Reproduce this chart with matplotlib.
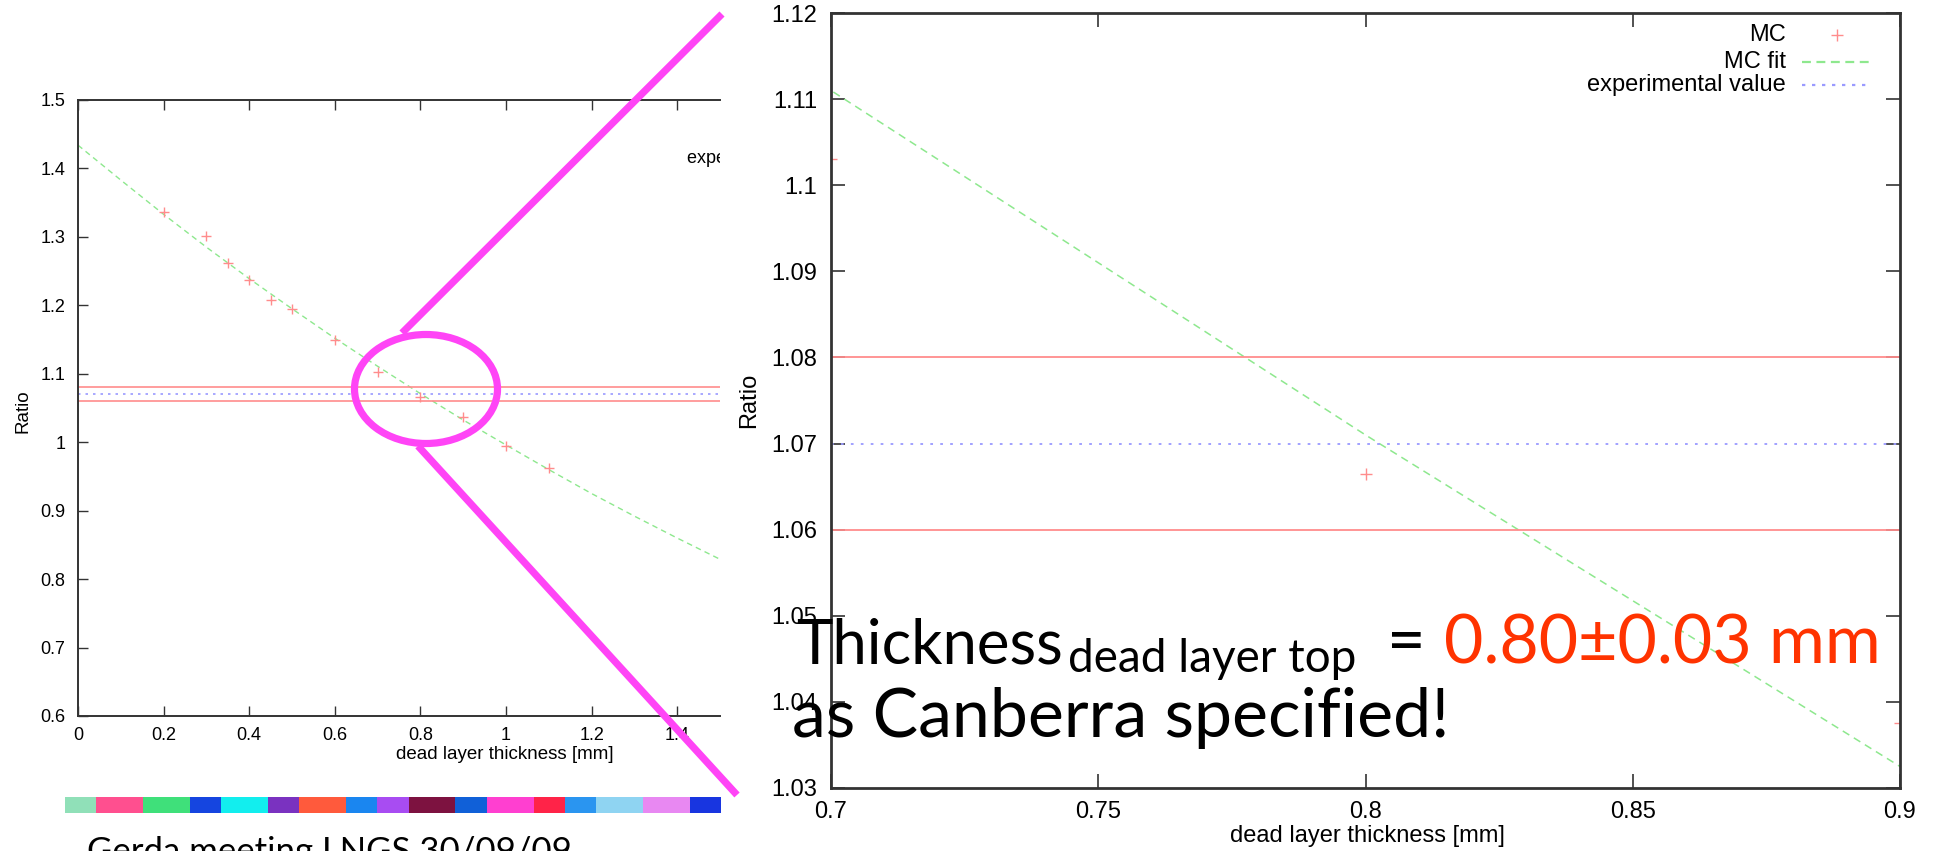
import matplotlib
matplotlib.use("Agg")
import matplotlib.pyplot as plt
from matplotlib.patches import Ellipse, Rectangle
from matplotlib.ticker import FuncFormatter

# MC points: dead layer thickness [mm] vs ratio
mc_x = [0.2, 0.3, 0.35, 0.4, 0.45, 0.5, 0.6, 0.7, 0.8, 0.9, 1.0, 1.1]
mc_y = [1.336, 1.301, 1.262, 1.237, 1.208, 1.194, 1.150, 1.103, 1.0665, 1.0375, 0.994, 0.963]

# MC fit curve
fit_x = [0.0, 0.1, 0.2, 0.3, 0.4, 0.5, 0.6, 0.7, 0.8, 0.9, 1.0, 1.1, 1.2, 1.3, 1.4, 1.5]
fit_y = [1.434, 1.383, 1.333, 1.285, 1.239, 1.195, 1.152, 1.111, 1.071, 1.0325,
         0.996, 0.960, 0.925, 0.892, 0.860, 0.829]

# experimental value with its band
exp_val = 1.07
exp_band = [1.06, 1.08]

left_xticks = [0, 0.2, 0.4, 0.6, 0.8, 1.0, 1.2, 1.4]
left_yticks = [0.6, 0.7, 0.8, 0.9, 1.0, 1.1, 1.2, 1.3, 1.4, 1.5]
right_xticks = [0.7, 0.75, 0.8, 0.85, 0.9]
right_yticks = [1.03, 1.04, 1.05, 1.06, 1.07, 1.08, 1.09, 1.10, 1.11, 1.12]

# decorative strip colours under the left plot
strip_colors = ['#90e0b8', '#ff4f8f', '#3fe07a', '#1545e0', '#12eeee', '#7a32c0',
                '#ff5a3c', '#1a86f0', '#a84cf2', '#7d1240', '#1060d8', '#ff3fd0',
                '#ff2348', '#2a95f0', '#8fd4f2', '#e888f2', '#1835e0']
strip_widths = [2, 3, 3, 2, 3, 2, 3, 2, 2, 3, 2, 3, 2, 2, 3, 3, 2]

W, H = 1934, 851
RED = '#ff8c8c'
GREEN = '#8ee88e'
BLUE = '#9a9aff'
gfmt = FuncFormatter(lambda v, p: '%g' % round(v, 3))

fig = plt.figure(figsize=(W / 100, H / 100), dpi=100)
plt.rcParams['font.family'] = ['Liberation Sans', 'DejaVu Sans']


def px_axes(x0, y0, x1, y1):
    return fig.add_axes([x0 / W, 1 - y1 / H, (x1 - x0) / W, (y1 - y0) / H])


# ---- left (full range) plot ----
ax1 = px_axes(78, 100, 720, 716)
ax1.plot(fit_x, fit_y, color=GREEN, lw=1, dashes=(4, 3))
for yb in exp_band:
    ax1.axhline(yb, color=RED, lw=1.2)
ax1.axhline(exp_val, color=BLUE, lw=1.2, dashes=(1.5, 3))
ax1.plot(mc_x, mc_y, '+', color=RED, ms=7, mew=1)
ax1.set_xlim(0, 1.5)
ax1.set_ylim(0.6, 1.5)
ax1.set_xticks(left_xticks)
ax1.set_yticks(left_yticks)
ax1.xaxis.set_major_formatter(gfmt)
ax1.yaxis.set_major_formatter(gfmt)
ax1.spines['right'].set_visible(False)
for s in ['left', 'top', 'bottom']:
    ax1.spines[s].set_linewidth(1.4)
    ax1.spines[s].set_color('#333333')
ax1.tick_params(direction='in', top=True, right=False, length=7, width=1,
                labelsize=13, color='#333333')
ax1.tick_params(axis='y', pad=9)
ax1.tick_params(axis='x', pad=8)
ax1.set_xlabel('dead layer thickness [mm]', fontsize=13.5)
ax1.xaxis.set_label_coords(0.665, -0.049)
ax1.set_ylabel('Ratio', fontsize=13.5)
ax1.yaxis.set_label_coords(-0.073, 0.495)
ax1.text(1.424, 1.415, 'experimental value', fontsize=13, va='center', ha='left',
         clip_on=True)

# ---- right (zoomed) plot ----
ax2 = px_axes(831, 13, 1900, 788)
ax2.plot(fit_x, fit_y, color=GREEN, lw=1.1, dashes=(5, 3.5))
for yb in exp_band:
    ax2.axhline(yb, color=RED, lw=1.3)
ax2.axhline(exp_val, color=BLUE, lw=1.3, dashes=(1.5, 4))
ax2.plot(mc_x, mc_y, '+', color=RED, ms=8, mew=1)
ax2.set_xlim(0.7, 0.9)
ax2.set_ylim(1.03, 1.12)
ax2.set_xticks(right_xticks)
ax2.set_yticks(right_yticks)
ax2.xaxis.set_major_formatter(gfmt)
ax2.yaxis.set_major_formatter(gfmt)
for s in ax2.spines.values():
    s.set_linewidth(2)
    s.set_color('#333333')
ax2.tick_params(direction='in', top=True, right=True, length=10, width=1.2,
                labelsize=17, color='#333333')
ax2.tick_params(axis='y', pad=10)
ax2.tick_params(axis='x', pad=9)
ax2.set_xlabel('dead layer thickness [mm]', fontsize=17)
ax2.xaxis.set_label_coords(0.5014, -0.048)
ax2.set_ylabel('Ratio', fontsize=17)
ax2.yaxis.set_label_coords(-0.066, 0.5)

# gnuplot-style key, text right aligned
key_y = [0.9716, 0.9368, 0.9071]
ax2.text(0.8934, key_y[0], 'MC', transform=ax2.transAxes, ha='right', va='center', fontsize=17)
ax2.text(0.8934, key_y[1], 'MC fit', transform=ax2.transAxes, ha='right', va='center', fontsize=17)
ax2.text(0.8934, key_y[2], 'experimental value', transform=ax2.transAxes, ha='right',
         va='center', fontsize=17)
ax2.plot([0.941], [key_y[0]], '+', color=RED, ms=8, mew=1, transform=ax2.transAxes)
ax2.plot([0.9083, 0.9738], [key_y[1]] * 2, color=GREEN, lw=1.6, dashes=(4, 2.5),
         transform=ax2.transAxes)
ax2.plot([0.9083, 0.9738], [key_y[2]] * 2, color=BLUE, lw=1.6, dashes=(1.5, 3),
         transform=ax2.transAxes)

# ---- overlay in pixel coordinates ----
ov = fig.add_axes([0, 0, 1, 1], zorder=10)
ov.set_xlim(0, W)
ov.set_ylim(H, 0)
ov.axis('off')
ov.patch.set_alpha(0)

MAG = '#ff44f6'
ov.add_patch(Ellipse((426, 389), 143, 109, fill=False, ec=MAG, lw=5.2))
ov.plot([402, 722], [333, 14], color=MAG, lw=5.2, solid_capstyle='butt')
ov.plot([418, 737], [446, 795], color=MAG, lw=5.2, solid_capstyle='butt')

# colour strip
total = sum(strip_widths)
x = 65.0
for c, w in zip(strip_colors, strip_widths):
    ww = w / total * (721 - 65)
    ov.add_patch(Rectangle((x, 797), ww, 16, color=c, lw=0))
    x += ww

ov.text(87, 862, 'Gerda meeting LNGS 30/09/09', fontsize=25, family='Lato',
        va='baseline', ha='left')

big = dict(family='Lato', va='baseline', ha='left')
ov.text(796, 663, 'Thickness', fontsize=44.5, color='black', **big)
ov.text(1068, 672, 'dead layer top', fontsize=33, color='black', **big)
ov.text(1387, 663, '=', fontsize=48, color='black', **big)
ov.text(1444, 663, '0.80\u00b10.03 mm', fontsize=49, color='#ff3300', **big)
ov.text(792, 737, 'as Canberra specified!', fontsize=49, color='black', **big)

plt.savefig('out.png', dpi=100)
